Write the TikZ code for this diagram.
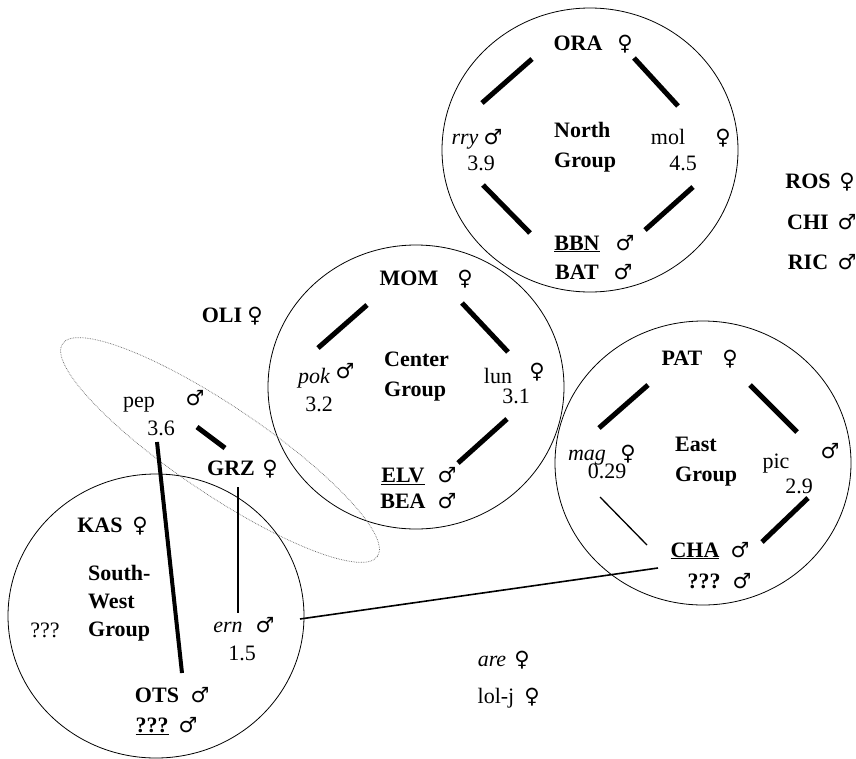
\documentclass[tikz,border=0pt]{standalone}
\usepackage{fontspec}
\setmainfont{Liberation Serif}
\newfontfamily\symf{DejaVu Sans}
\usetikzlibrary{shapes.geometric}
\begin{document}
\begin{tikzpicture}[x=1pt,y=-1pt,
  every node/.style={inner sep=0pt, font=\fontsize{22}{26}\selectfont},
  nm/.style={anchor=base},
  bnm/.style={anchor=base, font=\fontsize{22}{26}\selectfont\bfseries},
  inm/.style={anchor=base, font=\fontsize{22}{26}\selectfont\itshape},
  sx/.style={anchor=base, font=\fontsize{21}{24}\selectfont\symf},
  grp/.style={draw, ellipse, line width=0.8pt, minimum width=296pt, minimum height=284pt},
  glabel/.style={anchor=north west, align=left, font=\fontsize{22}{30}\selectfont\bfseries},
  bond/.style={line width=5pt},
  link/.style={line width=1.3pt}]
\useasboundingbox (0,0) rectangle (856,758);
% group circles
\node[grp] (gN) at (590,150) {};
\node[grp] (gC) at (416,387) {};
\node[grp] (gE) at (703,463) {};
\node[grp] (gSW) at (156,616) {};
\node[draw, ellipse, densely dotted, gray!80!black, line width=0.7pt, minimum width=380pt, minimum height=88pt, rotate=-34] (dot) at (220,450) {};
% North group
\node[bnm] (ora) at (578,50) {ORA}; \node[sx] (oras) at (625,50) {♀};
\node[inm] (rry) at (465,144) {rry}; \node[sx] (rrys) at (493,144) {♂};
\node[nm] (rryv) at (481,170) {3.9};
\node[glabel] (nlab) at (554,122) {North\\Group};
\node[nm] (mol) at (668,144) {mol}; \node[sx] (mols) at (723,144) {♀};
\node[nm] (molv) at (683,170) {4.5};
\node[bnm] (bbn) at (577,250) {\underline{BBN}}; \node[sx] (bbns) at (625,250) {♂};
\node[bnm] (bat) at (577,279) {BAT}; \node[sx] (bats) at (623,279) {♂};
\coordinate (n1a) at (482,103); \coordinate (n1b) at (532,59);
\coordinate (n2a) at (634,58); \coordinate (n2b) at (678,106);
\coordinate (n3a) at (483,185); \coordinate (n3b) at (530,233);
\coordinate (n4a) at (693,187); \coordinate (n4b) at (645,230);
\draw[bond] (n1a) -- (n1b); \draw[bond] (n2a) -- (n2b);
\draw[bond] (n3a) -- (n3b); \draw[bond] (n4a) -- (n4b);
% Center group
\node[bnm] (mom) at (409,285) {MOM}; \node[sx] (moms) at (465,285) {♀};
\node[inm] (pok) at (314,383) {pok}; \node[sx] (poks) at (345,378) {♂};
\node[nm] (pokv) at (319,411) {3.2};
\node[glabel] (clab) at (384,352) {Center\\Group};
\node[nm] (lun) at (498,383) {lun}; \node[sx] (luns) at (537,378) {♀};
\node[nm] (lunv) at (516,403) {3.1};
\node[bnm] (elv) at (403,482) {\underline{ELV}}; \node[sx] (elvs) at (447,482) {♂};
\node[bnm] (bea) at (403,508) {BEA}; \node[sx] (beas) at (447,508) {♂};
\coordinate (c1a) at (318,348); \coordinate (c1b) at (367,305);
\coordinate (c2a) at (462,303); \coordinate (c2b) at (508,352);
\coordinate (c3a) at (507,419); \coordinate (c3b) at (458,463);
\draw[bond] (c1a) -- (c1b); \draw[bond] (c2a) -- (c2b); \draw[bond] (c3a) -- (c3b);
% East group
\node[bnm] (pat) at (682,365) {PAT}; \node[sx] (pats) at (730,365) {♀};
\node[inm] (mag) at (587,460) {mag}; \node[sx] (mags) at (628,460) {♀};
\node[nm] (magv) at (607,478) {0.29};
\node[glabel] (elab) at (675,437) {East\\Group};
\node[nm] (pic) at (776,468) {pic}; \node[sx] (pics) at (830,458) {♂};
\node[nm] (picv) at (799,493) {2.9};
\node[bnm] (cha) at (695,557) {\underline{CHA}}; \node[sx] (chas) at (740,557) {♂};
\node[bnm] (eq) at (704,588) {???}; \node[sx] (eqs) at (742,588) {♂};
\coordinate (e1a) at (599,428); \coordinate (e1b) at (648,385);
\coordinate (e2a) at (750,385); \coordinate (e2b) at (797,432);
\coordinate (e3a) at (600,497); \coordinate (e3b) at (647,545);
\coordinate (e4a) at (808,498); \coordinate (e4b) at (762,542);
\draw[bond] (e1a) -- (e1b); \draw[bond] (e2a) -- (e2b);
\draw[link] (e3a) -- (e3b); \draw[bond] (e4a) -- (e4b);
% South-West group
\node[bnm] (kas) at (100,532) {KAS}; \node[sx] (kass) at (140,532) {♀};
\node[anchor=north west, align=left, font=\fontsize{22}{28}\selectfont\bfseries] (swlab) at (88,565) {South-\\West\\Group};
\node[nm] (swq) at (45,637) {???};
\node[inm] (ern) at (228,632) {ern}; \node[sx] (erns) at (265,632) {♂};
\node[nm] (ernv) at (242,660) {1.5};
\node[bnm] (ots) at (157,702) {OTS}; \node[sx] (otss) at (200,702) {♂};
\node[bnm] (swx) at (152,732) {\underline{???}}; \node[sx] (swxs) at (188,732) {♂};
% between groups
\node[nm] (pep) at (139,407) {pep}; \node[sx] (peps) at (195,405) {♂};
\node[nm] (pepv) at (161,435) {3.6};
\node[bnm] (grz) at (231,475) {GRZ}; \node[sx] (grzs) at (270,475) {♀};
\node[bnm] (oli) at (222,322) {OLI}; \node[sx] (olis) at (255,322) {♀};
\coordinate (p1a) at (197,427); \coordinate (p1b) at (225,448);
\coordinate (p2a) at (157,442); \coordinate (p2b) at (182,673);
\coordinate (g1a) at (238,487); \coordinate (g1b) at (238,613);
\coordinate (x1a) at (300,619); \coordinate (x1b) at (658,568);
\draw[bond] (p1a) -- (p1b);
\draw[line width=4pt] (p2a) -- (p2b);
\draw[link] (g1a) -- (g1b);
\draw[line width=1.6pt] (x1a) -- (x1b);
% loose individuals
\node[bnm] (ros) at (808,188) {ROS}; \node[sx] (ross) at (847,188) {♀};
\node[bnm] (chi) at (808,229) {CHI}; \node[sx] (chis) at (847,229) {♂};
\node[bnm] (ric) at (808,269) {RIC}; \node[sx] (rics) at (847,269) {♂};
\node[inm] (are) at (492,666) {are}; \node[sx] (ares) at (522,666) {♀};
\node[nm] (lol) at (496,703) {lol-j}; \node[sx] (lols) at (532,703) {♀};
\end{tikzpicture}
\end{document}
